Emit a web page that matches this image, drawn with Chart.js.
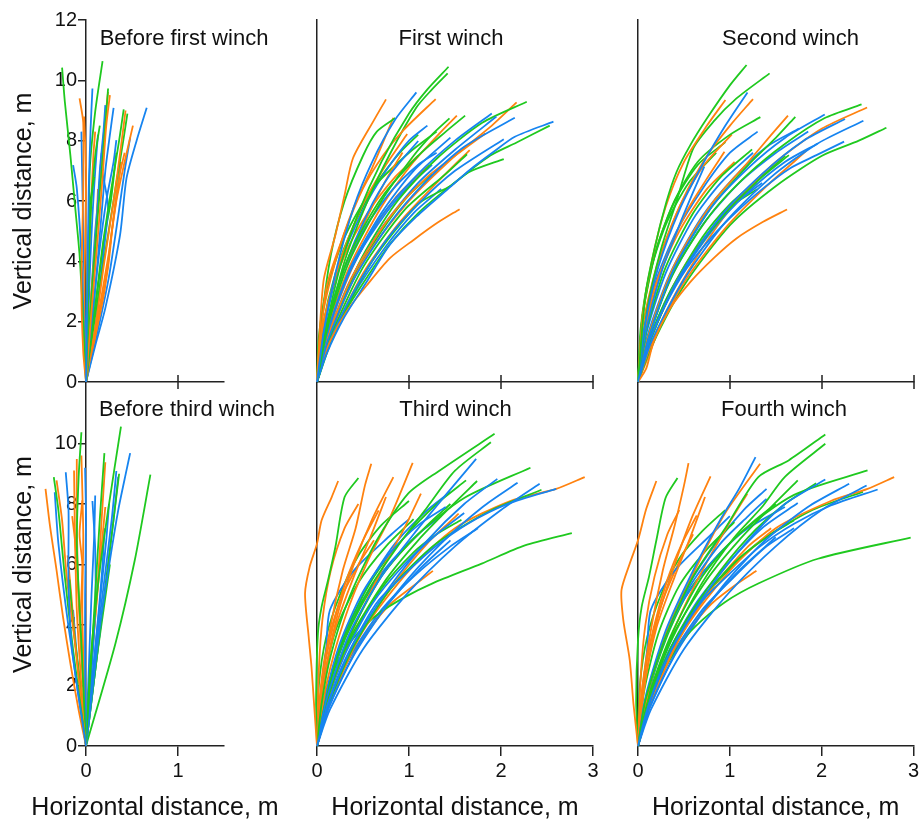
<!DOCTYPE html>
<html>
<head>
<meta charset="utf-8">
<title>Stem profiles</title>
<script src="https://cdn.jsdelivr.net/npm/chart.js@4.4.0/dist/chart.umd.min.js"></script>
<style>
  body { margin: 0; background: #fff; }
  #wrap { position: relative; width: 922px; height: 823px; }
  #wrap canvas { position: absolute; left: 0; top: 0; }
</style>
</head>
<body>
<div id="wrap"></div>
<script>
// tick values
var yTicksFull = [0, 2, 4, 6, 8, 10, 12];
var yTicksLow = [0, 2, 4, 6, 8, 10];
var xTicksNarrow = [0, 1];
var xTicksWide = [0, 1, 2, 3];

var panelTitles = ['Before first winch', 'First winch', 'Second winch',
                   'Before third winch', 'Third winch', 'Fourth winch'];
var xTitle = 'Horizontal distance, m';
var yTitle = 'Vertical distance, m';

// each line: x,y pairs in metres
var beforeFirstGreen = [
  [0,0, -.03,2.0, -.07,4.21, -.12,5.87, -.17,7.52, -.23,9.29, -.26,10.42],
  [0,0, .02,2.0, .03,4.2, .04,6.97, .1,8.96, .18,10.64],
  [0,0, .04,2.0, .1,4.5, .17,7.0, .21,8.5, .24,9.73],
  [0,0, .08,2.0, .18,4.5, .28,6.5, .36,8.0, .41,9.04],
  [0,0, .1,2.2, .22,4.5, .33,6.6, .4,7.9, .45,8.9],
  [0,0, .02,3.0, .05,5.5, .1,7.5, .15,8.5],
  [0,0, .01,2.0, .02,4.0, .04,5.8, .09,6.8],
  [0,0, .08,2.0, .15,3.6, .2,4.8, .27,6.0, .33,7.6]
];
var beforeFirstOrange = [
  [0,0, -.03,1.0, -.05,3.1, -.03,6.42, -.03,8.6, -.07,9.4],
  [0,0, -.02,2.0, -.01,4.5, 0,7.0, -.02,8.8],
  [0,0, .05,2.0, .12,4.5, .18,6.8, .22,8.5, .26,9.51],
  [0,0, .04,2.2, .1,4.6, .16,7.0, .2,8.5, .24,9.62],
  [0,0, .1,1.8, .2,4.0, .3,6.0, .38,7.8, .43,9.0],
  [0,0, .12,2.0, .25,4.3, .33,6.0, .42,7.3, .51,8.5],
  [0,0, .05,2.0, .1,4.2, .13,6.4],
  [0,0, .1,1.5, .2,3.0, .28,5.0, .35,6.5, .38,7.3],
  [0,0, .01,1.5, .03,3.5, .05,5.5, .08,7.5, .1,8.3],
  [0,0, .08,1.2, .16,2.5, .24,3.8, .3,5.5, .36,6.8, .42,7.6]
];
var beforeFirstBlue = [
  [0,0, .01,2.0, .02,4.2, .03,6.42, .05,8.4, .07,9.73],
  [0,0, -.02,1.5, -.05,4.21, -.1,6.42, -.14,7.19],
  [0,0, -.01,2.0, -.03,5.0, -.05,8.3],
  [0,0, .05,2.0, .1,4.5, .15,7.0, .19,8.3, .21,9.18],
  [0,0, .07,2.0, .14,4.5, .21,7.0, .26,8.2, .3,9.09],
  [0,0, .1,1.2, .21,2.45, .37,4.87, .44,6.75, .55,8.0, .66,9.09],
  [0,0, .06,2.0, .14,4.2, .22,6.0, .3,7.3, .33,8.02],
  [0,0, .1,1.8, .18,4.0, .24,5.8, .2,6.6, .16,7.2],
  [0,0, .02,1.5, .04,3.5, .07,5.5, .1,7.0, .13,8.2],
  [0,0, .03,1.2, .06,3.0, .1,5.0, .14,6.3, .17,7.6],
  [0,0, .15,2.0, .25,3.5, .35,5.5, .42,7.0, .48,8.1]
];

var firstGreen = [
  [0,0, .08,1.5, .25,3.8, .45,5.6, .7,7.3, 1.0,8.9, 1.2,9.7, 1.43,10.45],
  [0,0, .1,1.6, .3,4.0, .55,6.0, .8,7.6, 1.08,9.1, 1.25,9.7, 1.42,10.23],
  [0,0, .05,2.0, .15,4.2, .3,6.0, .5,7.5, .65,8.3, .85,8.75],
  [0,0, .1,1.8, .35,4.2, .7,6.1, 1.1,7.5, 1.4,8.3, 1.61,8.83],
  [0,0, .1,1.7, .35,4.0, .7,6.0, 1.05,7.5, 1.25,8.2, 1.44,8.74],
  [0,0, .15,1.5, .5,3.8, .95,5.7, 1.4,6.9, 1.63,7.55],
  [0,0, .2,1.7, .6,4.0, 1.1,5.9, 1.45,6.5, 1.66,6.97, 2.03,7.39],
  [0,0, .1,1.0, .3,2.3, .55,3.5, .8,4.6, 1.1,5.6, 1.45,6.5, 1.88,7.5, 2.17,7.94, 2.53,8.5],
  [0,0, .15,1.6, .45,3.9, .85,5.9, 1.3,7.4, 1.8,8.6, 2.28,9.29],
  [0,0, .02,1.5, .1,3.0, .3,4.8, .6,6.4, 1.0,7.6, 1.3,8.3],
  [0,0, .12,1.3, .35,3.2, .7,5.0, 1.0,6.2, 1.25,6.9],
  [0,0, .06,1.8, .2,3.6, .4,5.2, .65,6.6, .9,7.6, 1.1,8.2]
];
var firstOrange = [
  [0,0, .07,3.33, .2,4.87, .3,6.2, .39,7.41, .61,8.63, .75,9.37],
  [0,0, .1,3.1, .29,4.87, .5,6.42, .72,7.52, .94,8.35, 1.29,9.38],
  [0,0, .01,.23, .14,1.34, .32,2.33, .54,3.2, .79,4.1, 1.05,4.71, 1.3,5.26, 1.55,5.73],
  [0,0, .05,2.0, .2,4.0, .4,5.8, .6,7.1, .83,8.76],
  [0,0, .06,1.8, .25,4.0, .5,5.9, .75,7.2, .98,8.22],
  [0,0, .1,1.7, .3,3.8, .55,5.5, .75,6.7, .93,7.61],
  [0,0, .12,1.5, .4,3.6, .8,5.5, 1.2,6.8, 1.5,7.5, 1.83,8.24],
  [0,0, .15,1.4, .5,3.6, .9,5.3, 1.3,6.6, 1.66,7.69],
  [0,0, .1,1.6, .35,3.8, .7,5.8, 1.05,7.3, 1.35,8.3, 1.52,8.83],
  [0,0, .15,1.6, .5,4.0, 1.0,6.0, 1.5,7.5, 1.9,8.5, 2.17,9.27],
  [0,0, .08,1.1, .25,2.8, .5,4.5, .85,6.1, 1.22,7.2],
  [0,0, .02,1.0, .12,2.6, .3,4.2, .55,5.6, .85,6.8, 1.1,7.5]
];
var firstBlue = [
  [0,0, .07,1.6, .2,3.6, .4,5.8, .6,7.3, .85,8.7, 1.08,9.6],
  [0,0, .1,.9, .29,2.11, .54,3.32, .79,4.54, 1.08,5.48, 1.45,6.47, 1.66,7.03, 1.92,7.63, 2.15,8.13, 2.57,8.63],
  [0,0, .12,1.4, .4,3.4, .8,5.3, 1.2,6.7, 1.6,7.8, 2.15,8.76],
  [0,0, .1,1.5, .35,3.6, .7,5.5, 1.1,6.9, 1.5,8.0, 1.9,8.9],
  [0,0, .12,1.2, .4,3.0, .75,4.7, 1.1,5.9, 1.5,7.0, 2.03,8.05],
  [0,0, .08,1.6, .3,3.8, .55,5.6, .8,6.9, 1.1,7.99],
  [0,0, .1,1.5, .35,3.7, .7,5.6, 1.05,7.0, 1.45,8.1],
  [0,0, .1,1.3, .35,3.3, .7,5.1, 1.1,6.6, 1.5,7.7, 1.95,8.8],
  [0,0, .06,1.4, .25,3.4, .5,5.0, .8,6.3, 1.1,7.2, 1.3,7.6],
  [0,0, .12,1.1, .4,2.9, .75,4.5, 1.05,5.6, 1.35,6.4],
  [0,0, .05,1.0, .2,2.6, .45,4.2, .75,5.6, 1.0,6.5, 1.25,7.2],
  [0,0, .08,1.8, .25,3.9, .5,5.7, .75,7.0, 1.0,8.0, 1.2,8.5]
];

var secondGreen = [
  [0,0, .08,2.88, .18,4.43, .31,5.98, .42,6.97, .57,7.86, .75,8.74, 1.0,9.84, 1.18,10.51],
  [0,0, .1,2.4, .25,4.4, .42,6.0, .6,7.74, .82,8.63, 1.07,9.4, 1.43,10.23],
  [0,0, .05,2.2, .18,4.2, .38,5.9, .65,7.3, 1.0,8.2, 1.33,8.78],
  [0,0, .1,1.8, .3,3.8, .6,5.6, .9,6.8, 1.24,7.71],
  [0,0, .12,1.5, .4,3.8, .8,5.8, 1.2,7.2, 1.5,8.1, 1.71,8.79],
  [0,0, .15,1.5, .5,3.8, .95,5.6, 1.35,6.8, 1.64,7.52],
  [0,0, .12,1.5, .4,3.7, .8,5.6, 1.2,6.9, 1.6,7.9, 2.03,8.75, 2.43,9.2],
  [0,0, .15,1.2, .5,3.2, 1.0,5.2, 1.5,6.5, 2.0,7.5, 2.4,8.0, 2.7,8.43],
  [0,0, .05,2.2, .2,4.4, .4,6.0, .65,7.2, .95,7.95],
  [0,0, .1,1.2, .35,3.0, .7,4.8, 1.0,5.9, 1.3,6.7, 1.6,7.5],
  [0,0, .03,1.8, .12,3.5, .3,5.2, .55,6.6, .85,7.6],
  [0,0, .12,1.3, .4,3.2, .75,4.9, 1.05,5.9, 1.3,6.4]
];
var secondOrange = [
  [0,0, .09,.45, .17,1.34, .35,2.44, .57,3.32, .82,4.1, 1.07,4.76, 1.36,5.31, 1.62,5.72],
  [0,0, .05,2.2, .15,4.0, .3,5.8, .5,7.3, .75,8.5, .95,9.35],
  [0,0, .08,2.0, .25,4.2, .48,6.0, .75,7.5, 1.0,8.5, 1.25,9.38],
  [0,0, .06,2.0, .22,4.0, .45,5.8, .72,7.2, 1.02,8.21],
  [0,0, .08,1.8, .28,3.9, .52,5.6, .74,6.7, .94,7.63],
  [0,0, .12,1.6, .4,3.9, .8,5.9, 1.2,7.3, 1.45,8.2, 1.63,8.83],
  [0,0, .15,1.5, .5,3.8, 1.0,5.8, 1.5,7.3, 2.0,8.4, 2.49,9.1],
  [0,0, .15,1.3, .5,3.3, .95,5.1, 1.4,6.5, 1.83,7.66],
  [0,0, .05,1.4, .2,3.3, .45,5.0, .75,6.4, 1.05,7.3],
  [0,0, .12,.9, .3,2.3, .55,3.7, .8,4.9, 1.05,5.9, 1.3,6.6]
];
var secondBlue = [
  [0,0, .09,1.12, .28,2.44, .53,3.77, .82,4.87, 1.07,5.64, 1.36,6.42, 1.65,7.08, 1.94,7.52, 2.24,7.97],
  [0,0, .07,1.8, .22,3.8, .45,5.7, .7,7.2, .95,8.5, 1.19,9.6],
  [0,0, .08,1.6, .25,3.6, .45,5.2, .6,6.3, .72,7.14],
  [0,0, .12,1.5, .4,3.8, .8,5.8, 1.2,7.1, 1.6,8.1, 2.03,8.87],
  [0,0, .13,1.4, .45,3.5, .9,5.5, 1.35,6.9, 1.8,8.0, 2.25,8.72],
  [0,0, .14,1.3, .5,3.4, .95,5.3, 1.45,6.8, 1.95,7.9, 2.45,8.66],
  [0,0, .1,1.5, .35,3.6, .7,5.5, 1.05,6.8, 1.4,7.8, 1.75,8.4],
  [0,0, .1,1.4, .35,3.4, .7,5.2, 1.1,6.6, 1.5,7.6, 1.85,8.3],
  [0,0, .12,1.3, .4,3.2, .8,5.0, 1.2,6.3, 1.6,7.3, 1.95,7.9],
  [0,0, .08,1.5, .3,3.6, .6,5.4, .9,6.6, 1.25,7.6],
  [0,0, .1,1.2, .35,3.0, .7,4.7, 1.05,5.9, 1.35,6.6],
  [0,0, .06,1.6, .2,3.4, .42,5.0, .7,6.4, 1.0,7.6, 1.3,8.3]
];

var beforeThirdGreen = [
  [0,0, -.14,3.17, -.23,5.59, -.3,7.79, -.35,8.89],
  [0,0, -.05,3.39, -.1,6.69, -.08,8.89, -.05,10.37],
  [0,0, .05,2.84, .14,5.59, .24,7.79, .38,10.56],
  [0,0, .05,2.5, .1,5.0, .15,7.5, .2,9.68],
  [0,0, .32,3.39, .53,6.14, .7,8.97],
  [0,0, .1,2.5, .2,5.0, .3,7.5, .36,9.0],
  [0,0, -.06,2.0, -.14,4.0, -.18,5.5],
  [0,0, .06,1.5, .13,3.2, .2,4.7, .26,6.0]
];
var beforeThirdOrange = [
  [0,0, -.08,1.19, -.17,2.73, -.25,4.27, -.32,5.81, -.39,7.24, -.44,8.5],
  [0,0, -.12,3.4, -.21,5.59, -.26,7.46, -.32,8.78],
  [0,0, -.05,2.0, -.1,4.5, -.12,7.0, -.13,9.11],
  [0,0, -.03,2.5, -.08,5.0, -.1,7.5, -.1,9.49],
  [0,0, -.02,2.0, -.04,4.5, -.03,7.0, -.05,9.6],
  [0,0, -.03,2.0, -.06,4.0, -.04,6.0, -.07,7.0, -.04,8.12],
  [0,0, .05,2.5, .12,5.0, .17,7.5, .21,9.38],
  [0,0, .04,2.0, .1,4.2, .16,6.3, .21,7.9],
  [0,0, -.05,1.5, -.12,3.5, -.16,5.0, -.2,6.3],
  [0,0, -.02,1.5, -.06,3.5, -.09,5.5, -.12,6.8, -.15,7.6]
];
var beforeThirdBlue = [
  [0,0, -.15,3.17, -.19,5.37, -.19,7.79, -.22,9.05],
  [0,0, -.19,3.94, -.3,6.69, -.34,8.39],
  [0,0, -.01,2.5, -.01,5.0, 0,7.5, -.01,9.2],
  [0,0, .15,3.94, .26,6.14, .35,7.79, .44,9.11, .48,9.68],
  [0,0, .1,3.0, .2,5.5, .28,7.5, .33,9.09],
  [0,0, .03,2.5, .06,5.0, .09,7.0, .1,8.28],
  [0,0, .05,2.0, .1,4.5, .1,6.5, .07,8.1],
  [0,0, .12,3.0, .22,5.5, .3,7.5, .35,8.9],
  [0,0, .08,2.5, .16,5.0, .22,6.8, .25,8.0],
  [0,0, .06,2.0, .13,4.2, .18,6.0, .2,7.2],
  [0,0, -.05,1.5, -.1,3.0, -.14,4.5]
];

var thirdGreen = [
  [0,0, .05,1.4, .15,3.0, .35,4.9, .65,6.8, .99,8.34, 1.33,9.1, 1.93,10.32],
  [0,0, .08,1.3, .25,3.2, .55,5.1, .9,6.7, 1.2,7.9, 1.5,9.1, 1.89,10.04],
  [0,0, -.01,1.5, .01,3.72, .05,4.6, .12,5.48, .2,6.58, .3,8.23, .45,8.86],
  [0,0, .1,1.5, .35,3.6, .7,5.6, 1.1,7.0, 1.6,8.2, 2.32,9.2],
  [0,0, .1,1.4, .35,3.5, .75,5.5, 1.1,6.8, 1.45,7.9, 1.74,8.76],
  [0,0, .08,1.5, .3,3.7, .6,5.5, .95,6.9, 1.3,8.0, 1.62,8.78],
  [0,0, .12,1.3, .4,3.3, .8,5.2, 1.3,6.7, 1.9,7.8, 2.44,8.47],
  [0,0, .05,1.3, .2,2.62, .41,3.61, .67,4.38, .96,4.93, 1.25,5.37, 1.79,6.03, 2.26,6.63, 2.77,7.04],
  [0,0, .1,1.4, .35,3.4, .7,5.2, 1.05,6.4, 1.3,7.0, 1.57,7.48],
  [0,0, .05,1.8, .2,3.8, .45,5.4, .75,6.6, 1.05,7.5],
  [0,0, .1,1.6, .3,3.5, .55,5.0, .85,6.2, 1.2,7.3, 1.45,8.0],
  [0,0, .02,2.0, .1,3.6, .25,5.0, .45,6.3, .7,7.3, 1.0,8.1]
];
var thirdOrange = [
  [0,0, -.03,1.3, -.06,2.62, -.09,3.6, -.13,5.04, -.08,5.92, 0,6.69, .05,7.46, .16,8.23, .23,8.76],
  [0,0, .05,2.0, .15,4.0, .28,5.8, .42,7.2, .52,8.6, .59,9.33],
  [0,0, .08,2.2, .22,4.3, .4,6.0, .6,7.5, .83,8.89],
  [0,0, .1,2.0, .3,4.2, .55,6.1, .8,7.6, 1.04,9.36],
  [0,0, .06,1.8, .2,3.9, .4,5.6, .58,6.9, .75,8.23],
  [0,0, .12,1.6, .4,3.9, .7,5.8, .95,7.2, 1.13,8.34],
  [0,0, .05,2.0, .17,3.9, .32,5.5, .5,6.8, .67,7.79],
  [0,0, .15,1.5, .5,3.8, 1.0,5.8, 1.5,7.2, 2.1,8.1, 2.6,8.5, 2.91,8.89],
  [0,0, .12,1.3, .4,3.3, .8,5.2, 1.2,6.7, 1.54,7.68],
  [0,0, .1,1.1, .3,2.6, .55,3.8, .8,4.7, 1.05,5.3, 1.26,5.79],
  [0,0, .03,1.6, .1,3.2, .25,4.8, .45,6.0, .62,6.8],
  [0,0, .02,2.5, .06,4.2, .15,5.8, .3,7.2, .45,8.0]
];
var thirdBlue = [
  [0,0, .09,1.08, .27,2.62, .49,3.94, .67,4.82, .96,5.7, 1.28,6.58, 1.64,7.35, 2.08,8.01, 2.6,8.5],
  [0,0, .1,1.5, .35,3.7, .7,5.6, 1.05,7.0, 1.4,8.3, 1.73,9.49],
  [0,0, .12,1.4, .4,3.4, .8,5.3, 1.2,6.8, 1.6,8.0, 1.96,8.83],
  [0,0, .13,1.3, .45,3.3, .9,5.2, 1.35,6.7, 1.8,7.9, 2.18,8.7],
  [0,0, .14,1.2, .5,3.2, 1.0,5.1, 1.5,6.6, 2.0,7.8, 2.42,8.67],
  [0,0, .08,1.5, .25,3.4, .5,5.1, .8,6.4, 1.1,7.3, 1.4,7.9],
  [0,0, .1,1.3, .3,3.0, .6,4.7, .95,6.0, 1.3,7.0, 1.6,7.7],
  [0,0, .04,1.5, .1,3.2, .14,4.49, .4,5.8, .81,7.0, 1.0,7.5],
  [0,0, .11,1.2, .35,2.9, .7,4.5, 1.05,5.6, 1.45,6.6, 1.75,7.2],
  [0,0, .07,1.3, .22,3.0, .45,4.6, .75,5.9, 1.1,7.0, 1.35,7.6],
  [0,0, .1,1.6, .3,3.6, .55,5.3, .85,6.7, 1.2,7.8, 1.45,8.4],
  [0,0, .12,1.2, .4,3.0, .75,4.6, 1.1,5.8, 1.45,6.8]
];

var fourthGreen = [
  [0,0, .08,1.5, .3,3.6, .6,5.6, .95,7.2, 1.31,8.89, 1.64,9.44, 2.04,10.3],
  [0,0, .1,1.4, .35,3.4, .7,5.4, 1.05,6.9, 1.35,7.9, 1.6,8.9, 2.04,9.99],
  [0,0, -.02,1.5, 0,3.5, .04,4.6, .12,5.6, .2,6.8, .3,8.2, .43,8.86],
  [0,0, .1,1.5, .35,3.6, .7,5.6, 1.1,7.0, 1.7,8.3, 2.5,9.11],
  [0,0, .1,1.4, .35,3.5, .75,5.5, 1.1,6.8, 1.45,7.9, 1.74,8.78],
  [0,0, .12,1.4, .4,3.5, .8,5.4, 1.2,6.9, 1.6,8.0, 1.94,8.69],
  [0,0, .1,1.3, .35,3.2, .7,4.9, 1.1,6.2, 1.45,7.0, 1.7,7.46],
  [0,0, .08,1.08, .22,2.18, .44,3.28, .62,3.94, .95,4.76, 1.31,5.37, 1.96,6.19, 2.97,6.89],
  [0,0, .12,1.3, .4,3.3, .8,5.2, 1.3,6.7, 1.9,7.8, 2.45,8.4],
  [0,0, .06,1.7, .22,3.7, .45,5.3, .75,6.5, 1.05,7.4],
  [0,0, .1,1.6, .3,3.5, .55,5.1, .9,6.4, 1.25,7.4, 1.5,8.0],
  [0,0, .02,2.0, .1,3.6, .25,5.0, .45,6.2, .7,7.1, .95,7.8]
];
var fourthOrange = [
  [0,0, -.05,1.41, -.09,2.84, -.16,4.16, -.18,5.15, -.09,6.03, 0,6.8, .09,7.84, .2,8.76],
  [0,0, .05,2.0, .15,4.0, .27,5.8, .4,7.3, .5,8.6, .55,9.35],
  [0,0, .08,2.2, .22,4.3, .4,6.0, .58,7.5, .79,8.91],
  [0,0, .12,1.9, .35,4.1, .65,6.0, .95,7.7, 1.33,9.33],
  [0,0, .06,1.8, .2,3.9, .4,5.6, .57,6.9, .73,8.23],
  [0,0, .12,1.6, .4,3.9, .7,5.8, .98,7.3, 1.19,8.34],
  [0,0, .05,2.0, .17,3.9, .32,5.5, .48,6.7, .64,7.62],
  [0,0, .15,1.5, .5,3.8, 1.0,5.8, 1.5,7.2, 2.1,8.1, 2.5,8.5, 2.79,8.89],
  [0,0, .12,1.3, .4,3.3, .8,5.2, 1.2,6.6, 1.45,7.2],
  [0,0, .1,1.1, .3,2.6, .55,3.8, .8,4.7, 1.05,5.3, 1.29,5.79],
  [0,0, .03,2.3, .08,4.0, .18,5.6, .32,7.0, .45,7.8],
  [0,0, .04,1.6, .12,3.2, .27,4.8, .45,6.1, .6,7.0]
];
var fourthBlue = [
  [0,0, .09,1.1, .27,2.6, .5,3.9, .7,4.8, 1.0,5.7, 1.33,6.6, 1.7,7.35, 2.1,7.95, 2.61,8.48],
  [0,0, .08,1.6, .3,3.8, .6,5.8, .9,7.5, 1.1,8.5, 1.28,9.55],
  [0,0, .12,1.4, .4,3.4, .8,5.3, 1.2,6.8, 1.6,8.0, 2.04,8.81],
  [0,0, .13,1.3, .45,3.3, .9,5.2, 1.35,6.7, 1.85,7.9, 2.3,8.67],
  [0,0, .14,1.2, .5,3.2, 1.0,5.1, 1.5,6.6, 2.0,7.8, 2.49,8.61],
  [0,0, .08,1.5, .28,3.5, .55,5.2, .9,6.7, 1.2,7.6, 1.4,8.17],
  [0,0, .1,1.3, .33,3.1, .65,4.8, 1.0,6.1, 1.35,7.2, 1.74,8.03],
  [0,0, .04,1.5, .1,3.2, .14,4.5, .4,5.8, .8,7.0, 1.0,7.6],
  [0,0, .11,1.2, .35,2.9, .7,4.5, 1.05,5.6, 1.4,6.6, 1.7,7.2],
  [0,0, .07,1.3, .22,3.0, .45,4.6, .78,6.0, 1.15,7.1, 1.6,7.9],
  [0,0, .1,1.6, .3,3.6, .55,5.3, .85,6.7, 1.15,7.8, 1.4,8.5],
  [0,0, .12,1.2, .4,3.0, .75,4.6, 1.1,5.8, 1.5,6.9]
];

var GREEN = '#1fc91f', ORANGE = '#ff820f', BLUE = '#1684f0', AX = '#222';
var FONT = '"Liberation Sans", Arial, sans-serif';
Chart.defaults.font.family = FONT;
Chart.defaults.color = '#111';

// panel layout in page pixels
var panels = [
  {t: 0, left: 86,  right: 224, top: 20,  bottom: 382, xmax: 1.5, xt: xTicksNarrow, yt: yTicksFull, yLab: true,  xLab: false, tdx: 98,    tdy: 25, g: beforeFirstGreen, o: beforeFirstOrange, b: beforeFirstBlue},
  {t: 1, left: 317, right: 593, top: 20,  bottom: 382, xmax: 3,   xt: xTicksWide,   yt: yTicksFull, yLab: false, xLab: false, tdx: 134,   tdy: 25, g: firstGreen, o: firstOrange, b: firstBlue},
  {t: 2, left: 638, right: 914, top: 20,  bottom: 382, xmax: 3,   xt: xTicksWide,   yt: yTicksFull, yLab: false, xLab: false, tdx: 152.5, tdy: 25, g: secondGreen, o: secondOrange, b: secondBlue},
  {t: 3, left: 86,  right: 224, top: 383, bottom: 746, xmax: 1.5, xt: xTicksNarrow, yt: yTicksLow,  yLab: true,  xLab: true,  tdx: 101,   tdy: 33, g: beforeThirdGreen, o: beforeThirdOrange, b: beforeThirdBlue},
  {t: 4, left: 317, right: 593, top: 383, bottom: 746, xmax: 3,   xt: xTicksWide,   yt: yTicksLow,  yLab: false, xLab: true,  tdx: 138.5, tdy: 33, g: thirdGreen, o: thirdOrange, b: thirdBlue},
  {t: 5, left: 638, right: 914, top: 383, bottom: 746, xmax: 3,   xt: xTicksWide,   yt: yTicksLow,  yLab: false, xLab: true,  tdx: 146,   tdy: 33, g: fourthGreen, o: fourthOrange, b: fourthBlue}
];

var panelTitle = {
  id: 'panelTitle',
  afterDraw: function(chart, args, opts) {
    var ctx = chart.ctx, a = chart.chartArea;
    ctx.save();
    ctx.fillStyle = '#111';
    ctx.textAlign = 'center';
    ctx.font = '22px ' + FONT;
    ctx.textBaseline = 'alphabetic';
    ctx.fillText(opts.text, a.left + opts.dx, a.top + opts.dy);
    // x title of the narrow panel is wider than its axis, so it is not squeezed
    if (opts.xText) {
      ctx.font = '25px ' + FONT;
      ctx.textBaseline = 'middle';
      ctx.fillText(opts.xText, (a.left + a.right) / 2, chart.height - 15);
    }
    ctx.restore();
  }
};

// top row x ticks cross the axis line
var crossTicks = {
  id: 'crossTicks',
  afterDraw: function(chart, args, opts) {
    if (!opts.len) return;
    var s = chart.scales.x, ctx = chart.ctx;
    ctx.save();
    ctx.strokeStyle = AX;
    ctx.lineWidth = 1.5;
    ctx.beginPath();
    s.ticks.forEach(function(t, i) {
      if (t.value === 0) return;
      var px = s.getPixelForTick(i);
      ctx.moveTo(px, s.top - opts.len);
      ctx.lineTo(px, s.top + opts.len);
    });
    ctx.stroke();
    ctx.restore();
  }
};

function toPoints(flat) {
  var pts = [];
  for (var i = 0; i < flat.length; i += 2) pts.push({x: flat[i], y: flat[i + 1]});
  return pts;
}

function lineSet(flat, color) {
  return {data: toPoints(flat), showLine: true, borderColor: color, backgroundColor: color,
          borderWidth: 1.8, pointRadius: 0, tension: 0.25, clip: false, fill: false};
}

var wrap = document.getElementById('wrap');

panels.forEach(function(p) {
  var c = document.createElement('canvas');
  c.width = 922; c.height = 823;
  wrap.appendChild(c);
  var yw = p.yLab ? 81 : 0;
  var xh = p.xLab ? 77 : 0;
  var narrow = p.xmax < 3;
  var ds = [];
  var n = Math.max(p.g.length, p.o.length, p.b.length);
  for (var i = 0; i < n; i++) {
    if (p.b[i]) ds.push(lineSet(p.b[i], BLUE));
    if (p.o[i]) ds.push(lineSet(p.o[i], ORANGE));
    if (p.g[i]) ds.push(lineSet(p.g[i], GREEN));
  }
  new Chart(c, {
    type: 'scatter',
    data: {datasets: ds},
    options: {
      responsive: false,
      animation: false,
      events: [],
      layout: {padding: {left: p.left - yw, right: 922 - p.right, top: p.top, bottom: 823 - p.bottom - xh}},
      scales: {
        x: {
          type: 'linear', min: 0, max: p.xmax,
          afterFit: function(s) { s.height = xh; },
          afterBuildTicks: function(s) { s.ticks = p.xt.map(function(v) { return {value: v}; }); },
          grid: {drawOnChartArea: false, drawTicks: p.xLab, tickLength: 10, color: AX, lineWidth: 1.5},
          border: {color: AX, width: 1.5},
          ticks: {display: p.xLab, padding: 3, maxRotation: 0, font: {size: 20}, color: '#111'},
          title: {display: p.xLab && !narrow, text: xTitle, font: {size: 25}, padding: {top: 0, bottom: 0}, color: '#111'}
        },
        y: {
          type: 'linear', min: 0, max: 12,
          afterFit: function(s) { s.width = yw; },
          afterBuildTicks: function(s) { s.ticks = p.yt.map(function(v) { return {value: v}; }); },
          grid: {drawOnChartArea: false, drawTicks: p.yLab, tickLength: 8, color: AX, lineWidth: 1.5},
          border: {color: AX, width: 1.5},
          ticks: {display: p.yLab, padding: 1, font: {size: 20}, color: '#111'},
          title: {display: p.yLab, text: yTitle, font: {size: 25}, padding: {top: 4, bottom: 0}, color: '#111'}
        }
      },
      plugins: {
        legend: {display: false},
        tooltip: {enabled: false},
        panelTitle: {text: panelTitles[p.t], dx: p.tdx, dy: p.tdy, xText: (p.xLab && narrow) ? xTitle : ''},
        crossTicks: {len: p.xLab ? 0 : 7}
      }
    },
    plugins: [panelTitle, crossTicks]
  });
});
</script>
</body>
</html>
